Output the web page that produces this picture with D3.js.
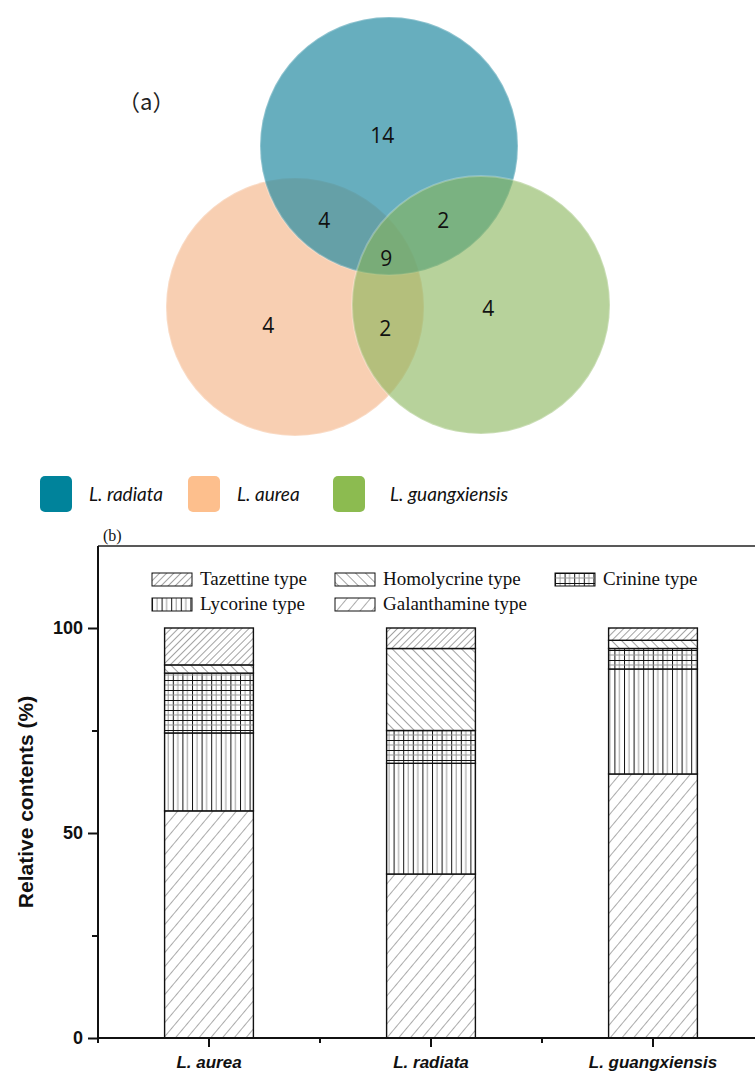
<!DOCTYPE html>
<html>
<head>
<meta charset="utf-8">
<script src="https://cdn.jsdelivr.net/npm/d3@7"></script>
<style>
  body { margin: 0; background: #fff; }
  svg { display: block; }
</style>
</head>
<body>
<div id="main"></div>
<script>
/* Venn data */
const vennSets = ["L. radiata", "L. aurea", "L. guangxiensis"];
const vennRegions = ["radiata", "radiata+aurea", "radiata+guangxiensis", "all", "aurea", "aurea+guangxiensis", "guangxiensis"];
const vennCounts = [14, 4, 2, 9, 4, 2, 4];

/* Bar data (stack order bottom -> top) */
const categories = ["L. aurea", "L. radiata", "L. guangxiensis"];
const types = ["Galanthamine type", "Lycorine type", "Crinine type", "Homolycrine type", "Tazettine type"];
const galanthamine = [55.4, 40, 64.4];
const lycorine = [19, 27, 25.6];
const crinine = [14.6, 8, 5];
const homolycrine = [2, 20, 2];
const tazettine = [9, 5, 3];
const yMajor = [0, 50, 100];
const yMinor = [25, 75];
const legendOrder = ["Tazettine type", "Homolycrine type", "Crinine type", "Lycorine type", "Galanthamine type"];

const width = 755, height = 1072;
const svg = d3.select("#main").append("svg").attr("width", width).attr("height", height);
const defs = svg.append("defs");

/* ---------- (a) Venn ---------- */
const R = 129;
const centers = { "L. radiata": [389, 146], "L. aurea": [295, 307], "L. guangxiensis": [481, 305] };
const fills = { "L. radiata": "rgb(39,139,162)", "L. aurea": "rgb(248,207,178)", "L. guangxiensis": "rgb(135,180,88)" };
const alphas = { "L. radiata": 0.7, "L. aurea": 1, "L. guangxiensis": 0.6 };
const legendFills = { "L. radiata": "#00839b", "L. aurea": "#fdbf8d", "L. guangxiensis": "#8cbb50" };

svg.append("text").attr("x", 118).attr("y", 110)
  .style("font-family", "'Noto Sans CJK SC'").style("font-size", "22px").style("fill", "#222")
  .text("（a）");

const drawOrder = ["L. aurea", "L. radiata", "L. guangxiensis"];
svg.append("g").selectAll("circle").data(drawOrder).enter()
  .append("circle")
  .attr("cx", d => centers[d][0]).attr("cy", d => centers[d][1]).attr("r", R)
  .attr("fill", d => fills[d]).attr("fill-opacity", d => alphas[d])
  .attr("stroke", "#fff").attr("stroke-opacity", 0.25).attr("stroke-width", 2);

const cx = d3.mean(vennSets, s => centers[s][0]), cy = d3.mean(vennSets, s => centers[s][1]);
// label offsets from the centroid of the three circles (layout only)
const labelOffsets = [[-6, -118], [-64, -33], [55, -33], [-2, 5], [-120, 72], [-3, 75], [100, 55]];
svg.append("g").selectAll("text").data(vennRegions).enter()
  .append("text")
  .attr("x", (d, i) => cx + labelOffsets[i][0])
  .attr("y", (d, i) => cy + labelOffsets[i][1])
  .attr("text-anchor", "middle").attr("dominant-baseline", "central")
  .style("font-family", "'Open Sans'").style("font-size", "21px").style("fill", "#111")
  .text((d, i) => vennCounts[i]);

/* Venn legend */
const vLegX = [40, 188, 333];
const vLeg = svg.append("g").selectAll("g").data(vennSets).enter().append("g")
  .attr("transform", (d, i) => `translate(${vLegX[i]},476)`);
vLeg.append("rect").attr("width", 32).attr("height", 36).attr("rx", 5)
  .attr("fill", d => legendFills[d]);
vLeg.append("text").attr("x", (d, i) => i == 2 ? 57 : 49).attr("y", 25)
  .style("font-family", "Lato").style("font-style", "italic").style("font-size", "19px").style("fill", "#111")
  .text(d => d);

/* ---------- (b) stacked bars ---------- */
function linePattern(id, spacing, angle, sw, color) {
  const p = defs.append("pattern").attr("id", id).attr("patternUnits", "userSpaceOnUse")
    .attr("width", spacing).attr("height", spacing).attr("patternTransform", `rotate(${angle})`);
  p.append("line").attr("x1", 0).attr("y1", 0).attr("x2", 0).attr("y2", spacing)
    .attr("stroke", color).attr("stroke-width", sw);
}
linePattern("taz", 5, 45, 0.9, "#333");
linePattern("gal", 9, 40, 0.9, "#444");
linePattern("hom", 7, -45, 0.9, "#333");
(function () {
  const p = defs.append("pattern").attr("id", "lyc").attr("patternUnits", "userSpaceOnUse")
    .attr("width", 9.6).attr("height", 10);
  p.append("line").attr("x1", 0.5).attr("y1", 0).attr("x2", 0.5).attr("y2", 10).attr("stroke", "#111").attr("stroke-width", 1);
  p.append("line").attr("x1", 5).attr("y1", 0).attr("x2", 5).attr("y2", 10).attr("stroke", "#999").attr("stroke-width", 1);
  const q = defs.append("pattern").attr("id", "cri").attr("patternUnits", "userSpaceOnUse")
    .attr("width", 9.6).attr("height", 10);
  q.append("line").attr("x1", 0.5).attr("y1", 0).attr("x2", 0.5).attr("y2", 10).attr("stroke", "#111").attr("stroke-width", 1);
  q.append("line").attr("x1", 5).attr("y1", 0).attr("x2", 5).attr("y2", 10).attr("stroke", "#999").attr("stroke-width", 1);
  q.append("line").attr("x1", 0).attr("y1", 0.5).attr("x2", 9.6).attr("y2", 0.5).attr("stroke", "#111").attr("stroke-width", 1);
  q.append("line").attr("x1", 0).attr("y1", 5).attr("x2", 9.6).attr("y2", 5).attr("stroke", "#999").attr("stroke-width", 1);
})();
const patternOf = {
  "Tazettine type": "url(#taz)", "Homolycrine type": "url(#hom)", "Crinine type": "url(#cri)",
  "Lycorine type": "url(#lyc)", "Galanthamine type": "url(#gal)"
};

const table = categories.map((c, i) => ({
  cat: c,
  "Galanthamine type": galanthamine[i], "Lycorine type": lycorine[i], "Crinine type": crinine[i],
  "Homolycrine type": homolycrine[i], "Tazettine type": tazettine[i]
}));
const series = d3.stack().keys(types)(table);

const x = d3.scaleBand().domain(categories).range([98, 764]).paddingInner(0.6).paddingOuter(0.3);
const y = d3.scaleLinear().domain([0, 120]).range([1038, 546]);

// top frame line
svg.append("line").attr("x1", 98).attr("x2", width).attr("y1", y(120)).attr("y2", y(120))
  .attr("stroke", "#222").attr("stroke-width", 1.6);

const bars = svg.append("g");
series.forEach(s => {
  bars.append("g").selectAll("rect").data(s).enter().append("rect")
    .attr("x", d => x(d.data.cat)).attr("width", x.bandwidth())
    .attr("y", d => y(d[1])).attr("height", d => y(d[0]) - y(d[1]))
    .attr("fill", "#fff");
  bars.append("g").selectAll("rect").data(s).enter().append("rect")
    .attr("x", d => x(d.data.cat)).attr("width", x.bandwidth())
    .attr("y", d => y(d[1])).attr("height", d => y(d[0]) - y(d[1]))
    .attr("fill", patternOf[s.key]).attr("stroke", "#111").attr("stroke-width", 1.4);
});

// y axis
const yAxis = svg.append("g").attr("transform", "translate(98,0)")
  .call(d3.axisLeft(y).tickValues(yMajor).tickSize(10).tickPadding(5));
svg.append("g").attr("transform", "translate(98,0)")
  .call(d3.axisLeft(y).tickValues(yMinor).tickSize(6).tickFormat(""))
  .call(g => g.select(".domain").remove());
yAxis.select(".domain").attr("d", `M0,${y(120)}V${y(0)}`);

// x axis
const xAxis = svg.append("g").attr("transform", `translate(0,${y(0)})`)
  .call(d3.axisBottom(x).tickSize(9).tickPadding(9));
xAxis.select(".domain").attr("d", `M98,0H${width}`);
const minorX = d3.range(categories.length + 1).map(i => x.range()[0] + i * x.step());
svg.append("g").selectAll("line").data(minorX).enter().append("line")
  .attr("x1", d => d).attr("x2", d => d).attr("y1", y(0)).attr("y2", y(0) + 5)
  .attr("stroke", "#111").attr("stroke-width", 2);

svg.selectAll(".domain, .tick line").attr("stroke", "#111").attr("stroke-width", 2);
yAxis.selectAll(".tick text")
  .style("font-family", "'Liberation Sans'").style("font-weight", "bold").style("font-size", "18px").style("fill", "#111");
xAxis.selectAll(".tick text")
  .style("font-family", "'Liberation Sans'").style("font-weight", "bold").style("font-style", "italic")
  .style("font-size", "17px").style("fill", "#111");

svg.append("text").attr("transform", "translate(33,802) rotate(-90)").attr("text-anchor", "middle")
  .style("font-family", "'Liberation Sans'").style("font-weight", "bold").style("font-size", "21px").style("fill", "#111")
  .text("Relative contents (%)");

svg.append("text").attr("x", 103).attr("y", 541)
  .style("font-family", "'Liberation Serif'").style("font-size", "16px").style("fill", "#111")
  .text("(b)");

// bar legend
const legPos = [[152, 573], [335, 573], [555, 573], [152, 598], [335, 598]];
const leg = svg.append("g").selectAll("g").data(legendOrder).enter().append("g")
  .attr("transform", (d, i) => `translate(${legPos[i][0]},${legPos[i][1]})`);
leg.append("rect").attr("width", 40).attr("height", 13).attr("fill", "#fff");
leg.append("rect").attr("width", 40).attr("height", 13)
  .attr("fill", d => patternOf[d]).attr("stroke", "#111").attr("stroke-width", 1);
leg.append("text").attr("x", 48).attr("y", 12)
  .style("font-family", "'Liberation Serif'").style("font-size", "19px").style("fill", "#111")
  .text(d => d);
</script>
</body>
</html>
